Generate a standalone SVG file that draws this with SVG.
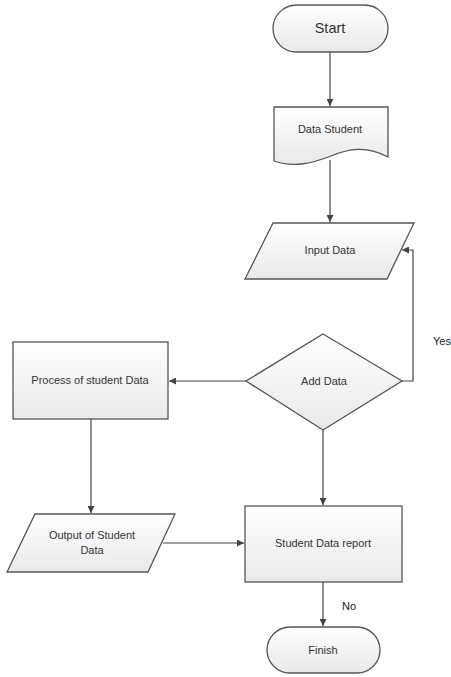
<svg xmlns="http://www.w3.org/2000/svg" width="451" height="677" viewBox="0 0 451 677">
<defs>
<linearGradient id="g" x1="0" y1="0" x2="0" y2="1">
<stop offset="0" stop-color="#ffffff"/>
<stop offset="1" stop-color="#e9e9e9"/>
</linearGradient>
<marker id="arr" viewBox="0 0 10 10" refX="10" refY="5" markerWidth="7" markerHeight="7" markerUnits="userSpaceOnUse" orient="auto">
<path d="M0,0 L10,5 L0,10 Z" fill="#444"/>
</marker>
<style>
.s{fill:url(#g);stroke:#555;stroke-width:1.3}
.t{font-family:"Liberation Sans",Arial,sans-serif;font-size:11px;fill:#333;text-anchor:middle;dominant-baseline:middle}
.c{fill:none;stroke:#444;stroke-width:1.2;marker-end:url(#arr)}
.l{font-family:"Liberation Sans",Arial,sans-serif;font-size:11px;fill:#222}
</style>
</defs>
<rect width="451" height="677" fill="#fff"/>
<g id="connectors">
<path class="c" d="M330,52 V106"/>
<path class="c" d="M330,160 V222"/>
<path class="c" d="M402,381 H413 V250 H402"/>
<path class="c" d="M246,381 H169"/>
<path class="c" d="M91,419 V513"/>
<path class="c" d="M163,543 H244"/>
<path class="c" d="M323,430 V505"/>
<path class="c" d="M323,582 V626"/>
<text class="l" x="433" y="345">Yes</text>
<text class="l" x="342" y="610">No</text>
</g>
<g id="start">
<rect class="s" x="273" y="5" width="115" height="47" rx="23.5"/>
<text class="t" x="330" y="29" style="font-size:14.5px">Start</text>
</g>
<g id="data-student">
<path class="s" d="M274,107 H388 V157 C366,145 348,149 331,156 C313,163 294,168 274,161 Z"/>
<text class="t" x="330" y="130">Data Student</text>
</g>
<g id="input-data">
<path class="s" d="M273,223 H414 L387,279 H245 Z"/>
<text class="t" x="330" y="251">Input Data</text>
</g>
<g id="add-data">
<path class="s" d="M323,334 L402,381 L323,430 L246,381 Z"/>
<text class="t" x="324" y="382">Add Data</text>
</g>
<g id="process">
<rect class="s" x="13" y="342" width="155" height="77"/>
<text class="t" x="90" y="381">Process of student Data</text>
</g>
<g id="output">
<path class="s" d="M35,514 H175 L148,572 H7 Z"/>
<text class="t" x="92" y="536">Output of Student</text>
<text class="t" x="92" y="551">Data</text>
</g>
<g id="report">
<rect class="s" x="245" y="506" width="157" height="76"/>
<text class="t" x="323" y="544">Student Data report</text>
</g>
<g id="finish">
<rect class="s" x="267" y="627" width="113" height="46" rx="23"/>
<text class="t" x="323" y="651">Finish</text>
</g>
</svg>
